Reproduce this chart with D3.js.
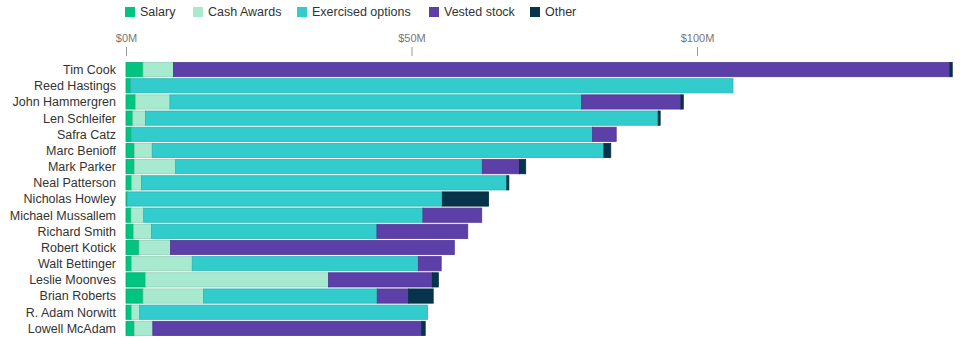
<!DOCTYPE html>
<html>
<head>
<meta charset="utf-8">
<script src="https://cdn.jsdelivr.net/npm/d3@7"></script>
<style>
  body { margin: 0; background: #fff; font-family: "Liberation Sans", Arial, sans-serif; }
</style>
</head>
<body>
<svg id="chart"></svg>
<script>
const names = ["Tim Cook", "Reed Hastings", "John Hammergren", "Len Schleifer", "Safra Catz",
  "Marc Benioff", "Mark Parker", "Neal Patterson", "Nicholas Howley", "Michael Mussallem",
  "Richard Smith", "Robert Kotick", "Walt Bettinger", "Leslie Moonves", "Brian Roberts",
  "R. Adam Norwitt", "Lowell McAdam"];

const categories = ["Salary", "Cash Awards", "Exercised options", "Vested stock", "Other"];
const colors = ["#00c47f", "#a8ead0", "#33cccc", "#5d3fa8", "#06344a"];

// $M values, one per executive
const salary     = [3.0, 0.8, 1.7, 1.2, 0.9, 1.5, 1.5, 1.0, 0.2, 0.9, 1.35, 2.3, 1.0, 3.45, 3.0, 1.0, 1.5];
const cashAwards = [5.3, 0, 6.0, 2.2, 0, 3.1, 7.2, 1.7, 0, 2.2, 3.1, 5.5, 10.6, 32.0, 10.6, 1.4, 3.2];
const exercised  = [0, 105.5, 72.1, 89.8, 80.8, 79.1, 53.7, 64.0, 55.2, 48.9, 39.5, 0, 39.6, 0, 30.4, 50.4, 0];
const vested     = [136.0, 0, 17.4, 0, 4.15, 0, 6.5, 0, 0, 10.3, 15.9, 49.7, 4.0, 18.2, 5.5, 0, 47.1];
const other      = [0.4, 0, 0.4, 0.35, 0, 1.2, 1.1, 0.35, 8.1, 0, 0, 0, 0, 1.05, 4.3, 0, 0.6];

const tickValues = [0, 50, 100];

const width = 960, height = 338;
const svg = d3.select("#chart").attr("width", width).attr("height", height);

const table = names.map((n, i) => ({
  name: n,
  "Salary": salary[i],
  "Cash Awards": cashAwards[i],
  "Exercised options": exercised[i],
  "Vested stock": vested[i],
  "Other": other[i]
}));

const stacked = d3.stack().keys(categories)(table);

const x = d3.scaleLinear().domain([0, 100]).range([126, 697]);
const y = d3.scaleBand().domain(names).range([62, 336]).paddingInner(0.12).paddingOuter(0.03);
const color = d3.scaleOrdinal().domain(categories).range(colors);

// legend
const legend = svg.append("g").attr("transform", "translate(125, 12)");
const legendX = [0, 68, 172, 304, 405];
categories.forEach((c, i) => {
  const g = legend.append("g").attr("transform", `translate(${legendX[i]}, 0)`);
  g.append("rect").attr("x", 0).attr("y", -5).attr("width", 10).attr("height", 10).attr("fill", color(c));
  g.append("text").attr("x", 15).attr("y", 0).attr("dy", "0.35em")
    .attr("font-size", 12.5).attr("fill", "#333").text(c);
});

// axis
const xAxis = d3.axisTop(x).tickValues(tickValues).tickFormat(d => `$${d}M`).tickSize(0).tickPadding(0);
const axisG = svg.append("g").attr("transform", "translate(0, 42)").call(xAxis);
axisG.select(".domain").remove();
axisG.selectAll("text").attr("font-size", 11).attr("fill", "#777")
  .attr("font-family", "'Liberation Sans', Arial, sans-serif");
axisG.selectAll(".tick").append("line")
  .attr("y1", 5).attr("y2", 14).attr("stroke", "#999").attr("stroke-width", 1);

// bars
svg.append("g").selectAll("g")
  .data(stacked)
  .join("g")
  .attr("fill", d => color(d.key))
  .attr("stroke", d => d3.color(color(d.key)).darker(0.35))
  .attr("stroke-width", 0.8)
  .selectAll("rect")
  .data(d => d.filter(s => s[1] - s[0] > 0))
  .join("rect")
  .attr("x", d => x(d[0]))
  .attr("y", d => y(d.data.name))
  .attr("width", d => x(d[1]) - x(d[0]))
  .attr("height", y.bandwidth());

// names
svg.append("g").selectAll("text")
  .data(names)
  .join("text")
  .attr("x", 116)
  .attr("y", d => y(d) + y.bandwidth() / 2)
  .attr("dy", "0.35em")
  .attr("text-anchor", "end")
  .attr("font-size", 12.5)
  .attr("fill", "#333")
  .text(d => d);
</script>
</body>
</html>
